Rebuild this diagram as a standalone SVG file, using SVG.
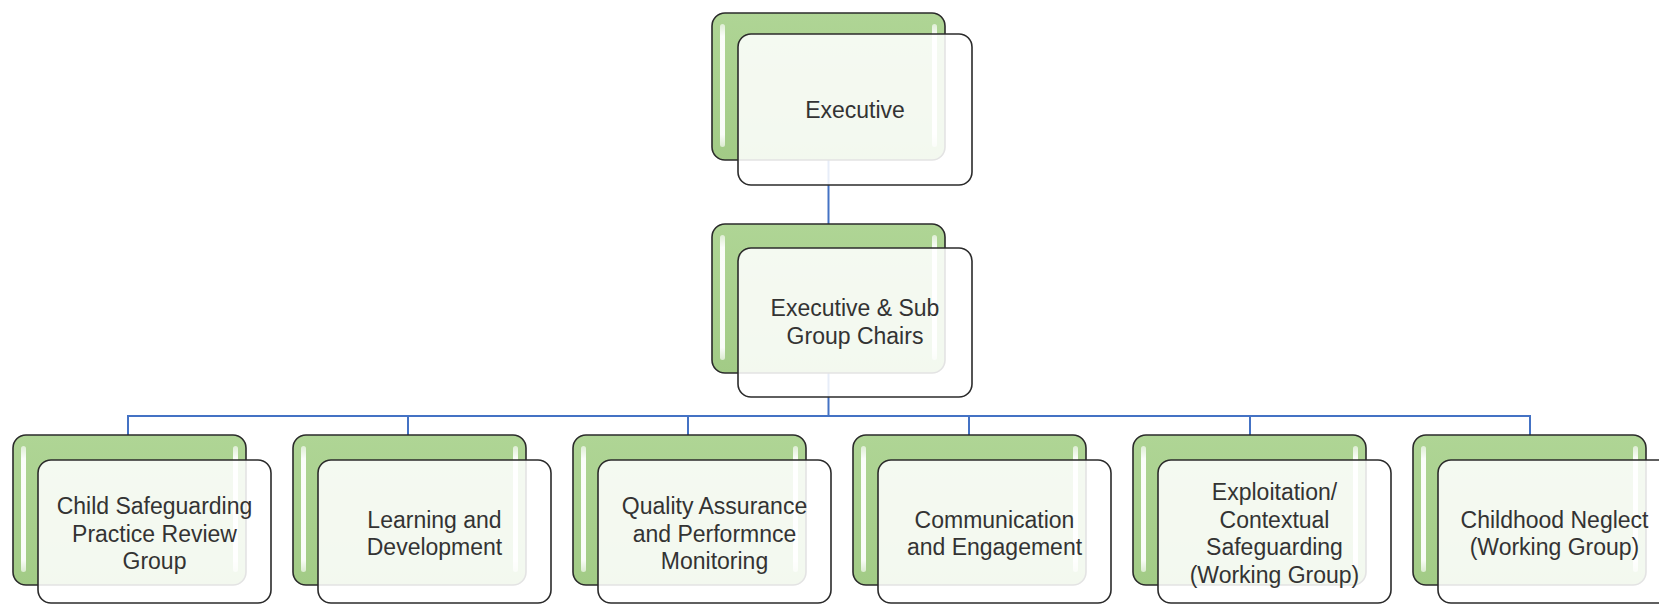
<svg xmlns="http://www.w3.org/2000/svg" width="1659" height="605" viewBox="0 0 1659 605">
<defs>
<linearGradient id="gg" x1="0" y1="0" x2="0" y2="1">
<stop offset="0" stop-color="#afd595"/>
<stop offset="1" stop-color="#a2cb86"/>
</linearGradient>
<linearGradient id="hl" x1="0" y1="0" x2="0" y2="1">
<stop offset="0" stop-color="#ffffff" stop-opacity="0.6"/>
<stop offset="0.1" stop-color="#ffffff" stop-opacity="0.95"/>
<stop offset="0.9" stop-color="#ffffff" stop-opacity="0.95"/>
<stop offset="1" stop-color="#ffffff" stop-opacity="0.6"/>
</linearGradient>
</defs>
<style>
.g{fill:url(#gg);stroke:#2b2b2b;stroke-width:1.6}
.h{fill:url(#hl)}
.w{fill:#ffffff;fill-opacity:0.87;stroke:#2b2b2b;stroke-width:1.6}
.t{font-family:"Liberation Sans",Arial,sans-serif;font-size:23px;fill:#333333;text-anchor:middle}
.c{fill:none;stroke:#4472c4;stroke-width:2}
</style>
<g id="connectors">
<line class="c" x1="828.5" y1="160" x2="828.5" y2="224"/>
<line class="c" x1="828.5" y1="373" x2="828.5" y2="416"/>
<line class="c" x1="128" y1="416" x2="1530" y2="416"/>
<line class="c" x1="128" y1="415" x2="128" y2="435"/>
<line class="c" x1="408" y1="415" x2="408" y2="435"/>
<line class="c" x1="688" y1="415" x2="688" y2="435"/>
<line class="c" x1="969" y1="415" x2="969" y2="435"/>
<line class="c" x1="1250" y1="415" x2="1250" y2="435"/>
<line class="c" x1="1530" y1="415" x2="1530" y2="435"/>
</g>
<g id="executive">
<rect class="g" x="712" y="13" width="233" height="147" rx="13"/>
<rect class="h" x="720" y="24" width="5" height="123" rx="2.5"/>
<rect class="h" x="932" y="24" width="5" height="123" rx="2.5"/>
<rect class="w" x="738" y="34" width="234" height="151" rx="13"/>
<text class="t" x="855" y="117.5">Executive</text>
</g>
<g id="chairs">
<rect class="g" x="712" y="224" width="233" height="149" rx="13"/>
<rect class="h" x="720" y="235" width="5" height="125" rx="2.5"/>
<rect class="h" x="932" y="235" width="5" height="125" rx="2.5"/>
<rect class="w" x="738" y="248" width="234" height="149" rx="13"/>
<text class="t" x="855" y="316">Executive &amp; Sub</text>
<text class="t" x="855" y="344">Group Chairs</text>
</g>
<g id="cspr">
<rect class="g" x="13" y="435" width="233" height="150" rx="13"/>
<rect class="h" x="21" y="446" width="5" height="126" rx="2.5"/>
<rect class="h" x="233" y="446" width="5" height="126" rx="2.5"/>
<rect class="w" x="38" y="460" width="233" height="143" rx="13"/>
<text class="t" x="154.5" y="514">Child Safeguarding</text>
<text class="t" x="154.5" y="541.5">Practice Review</text>
<text class="t" x="154.5" y="569">Group</text>
</g>
<g id="learning">
<rect class="g" x="293" y="435" width="233" height="150" rx="13"/>
<rect class="h" x="301" y="446" width="5" height="126" rx="2.5"/>
<rect class="h" x="513" y="446" width="5" height="126" rx="2.5"/>
<rect class="w" x="318" y="460" width="233" height="143" rx="13"/>
<text class="t" x="434.5" y="527.75">Learning and</text>
<text class="t" x="434.5" y="555.25">Development</text>
</g>
<g id="quality">
<rect class="g" x="573" y="435" width="233" height="150" rx="13"/>
<rect class="h" x="581" y="446" width="5" height="126" rx="2.5"/>
<rect class="h" x="793" y="446" width="5" height="126" rx="2.5"/>
<rect class="w" x="598" y="460" width="233" height="143" rx="13"/>
<text class="t" x="714.5" y="514">Quality Assurance</text>
<text class="t" x="714.5" y="541.5">and Performnce</text>
<text class="t" x="714.5" y="569">Monitoring</text>
</g>
<g id="communication">
<rect class="g" x="853" y="435" width="233" height="150" rx="13"/>
<rect class="h" x="861" y="446" width="5" height="126" rx="2.5"/>
<rect class="h" x="1073" y="446" width="5" height="126" rx="2.5"/>
<rect class="w" x="878" y="460" width="233" height="143" rx="13"/>
<text class="t" x="994.5" y="527.75">Communication</text>
<text class="t" x="994.5" y="555.25">and Engagement</text>
</g>
<g id="exploitation">
<rect class="g" x="1133" y="435" width="233" height="150" rx="13"/>
<rect class="h" x="1141" y="446" width="5" height="126" rx="2.5"/>
<rect class="h" x="1353" y="446" width="5" height="126" rx="2.5"/>
<rect class="w" x="1158" y="460" width="233" height="143" rx="13"/>
<text class="t" x="1274.5" y="500.25">Exploitation/</text>
<text class="t" x="1274.5" y="527.75">Contextual</text>
<text class="t" x="1274.5" y="555.25">Safeguarding</text>
<text class="t" x="1274.5" y="582.75">(Working Group)</text>
</g>
<g id="neglect">
<rect class="g" x="1413" y="435" width="233" height="150" rx="13"/>
<rect class="h" x="1421" y="446" width="5" height="126" rx="2.5"/>
<rect class="h" x="1633" y="446" width="5" height="126" rx="2.5"/>
<rect class="w" x="1438" y="460" width="233" height="143" rx="13"/>
<text class="t" x="1554.5" y="527.75">Childhood Neglect</text>
<text class="t" x="1554.5" y="555.25">(Working Group)</text>
</g>
</svg>
